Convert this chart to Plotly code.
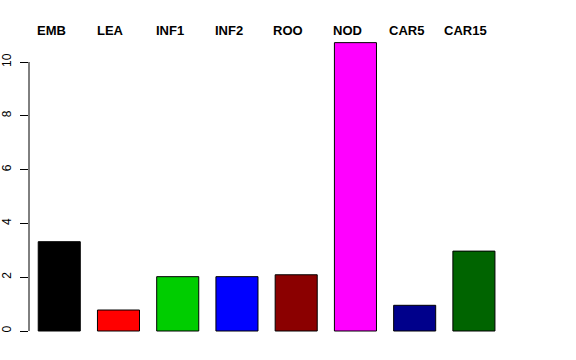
import plotly.graph_objects as go

categories = ["EMB", "LEA", "INF1", "INF2", "ROO", "NOD", "CAR5", "CAR15"]
values = [3.32, 0.78, 2.02, 2.02, 2.09, 10.72, 0.955, 2.97]
colors = ["#000000", "#FF0000", "#00CD00", "#0000FF", "#8B0000", "#FF00FF", "#00008B", "#006400"]
y_ticks = [0, 2, 4, 6, 8, 10]

xpos = list(range(len(categories)))

fig = go.Figure()
fig.add_trace(go.Bar(
    x=xpos, y=values, width=0.71,
    marker=dict(color=colors, line=dict(color="#000000", width=1)),
    showlegend=False, hoverinfo="skip",
))

for i, c in enumerate(categories):
    fig.add_annotation(
        x=i, y=1.0333, xref="x", yref="paper", text="<b>" + c + "</b>",
        showarrow=False, xanchor="center", yanchor="middle", xshift=-8,
        font=dict(family="Liberation Sans", size=13, color="#000000"),
    )

fig.add_shape(type="line", xref="paper", yref="y", x0=0, x1=0, y0=0, y1=10,
              line=dict(color="#000000", width=1))

fig.update_layout(
    width=576, height=360,
    margin=dict(l=29, r=56, t=40, b=20, autoexpand=False),
    paper_bgcolor="white", plot_bgcolor="white",
    font=dict(family="Liberation Sans", size=12, color="#000000"),
    xaxis=dict(range=[-0.5106, 7.778], showgrid=False, zeroline=False,
               showticklabels=False, showline=False, ticks="", automargin=False),
    yaxis=dict(range=[-0.3346, 10.818], showgrid=False, zeroline=False,
               showline=False, tickvals=y_ticks, ticktext=[str(v) for v in y_ticks],
               ticks="outside", ticklen=8, tickcolor="#000000", tickwidth=1,
               tickangle=-90, ticklabelstandoff=4, automargin=False,
               tickfont=dict(family="Liberation Sans", size=12, color="#000000")),
)

fig.write_html("out.html")
